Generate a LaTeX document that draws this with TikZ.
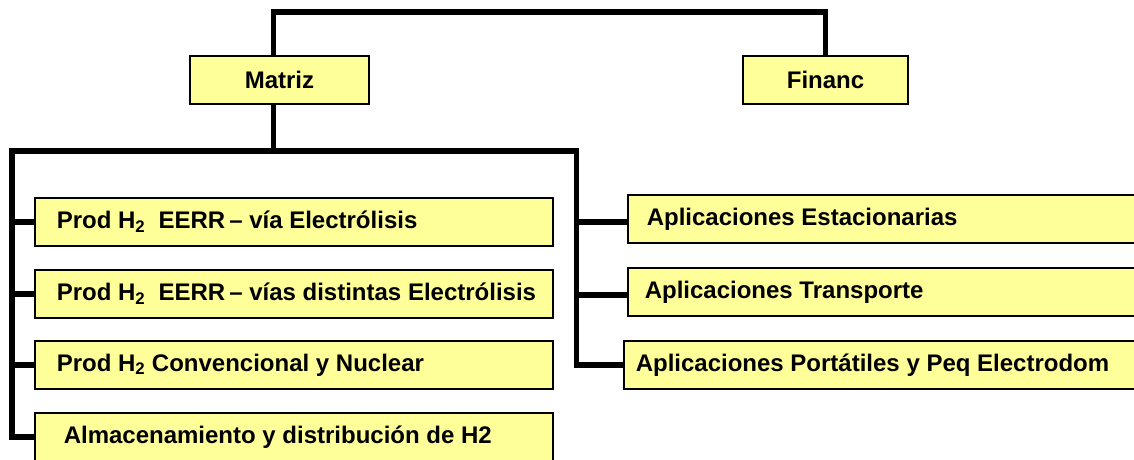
\documentclass[tikz,border=0pt]{standalone}
\usepackage{fontspec}
\setmainfont{Liberation Sans}
\definecolor{boxyellow}{HTML}{FFFF99}
\newcommand\lbox[2]{\makebox[#1][l]{#2}}
\tikzset{
	box/.style={draw=black, line width=1.5pt, fill=boxyellow, minimum height=48pt, inner ysep=0pt, font=\bfseries\fontsize{24}{28}\selectfont},
	conn/.style={line width=5.5pt, color=black}
}

\begin{document}
\begin{tikzpicture}[x=1pt, y=1pt]
			%%%%% START %%%%%
			\useasboundingbox (0, 0) rectangle (1134, -459);
			\clip (0, 0) rectangle (1134, -459);
			
			\node[box, minimum width=179pt] (matriz) at (279.5, -80) {Matriz};
			\node[box, minimum width=165pt] (financ) at (825.5, -80) {Financ};
			
			\node[box, anchor=west, inner xsep=22pt] (prodelec) at (34, -222) {\lbox{474pt}{Prod H\textsubscript{2}\ \ EERR\,– vía Electrólisis}};
			\node[box, anchor=west, inner xsep=22pt] (proddist) at (34, -294) {\lbox{474pt}{Prod H\textsubscript{2}\ \ EERR\,– vías distintas Electrólisis}};
			\node[box, anchor=west, inner xsep=22pt] (prodconv) at (34, -365) {\lbox{474pt}{Prod H\textsubscript{2} Convencional y Nuclear}};
			\node[box, anchor=west, inner xsep=29pt] (almac) at (34, -437) {\lbox{460pt}{Almacenamiento y distribución de H2}};
			
			\node[box, anchor=west, inner xsep=19pt] (apest) at (627, -219) {\lbox{500pt}{Aplicaciones Estacionarias}};
			\node[box, anchor=west, inner xsep=17pt] (aptrans) at (627, -292) {\lbox{504pt}{Aplicaciones Transporte}};
			\node[box, anchor=west, inner xsep=12pt] (apport) at (623, -365) {\lbox{518pt}{Aplicaciones Portátiles y Peq Electrodom}};
			
			\coordinate (top) at (550, -12);
			\coordinate (bus) at (12, -151);
			\coordinate (busr) at (576.5, -151);
			
			\draw[conn] ([xshift=-6pt]matriz.north) |- (top) -| (financ.north);
			\draw[conn] ([xshift=-6pt]matriz.south) -- ([xshift=-6pt]matriz.south |- bus);
			\draw[conn] (almac.west) -| (bus) -- (busr) |- (apport.west);
			
			\foreach \n in {prodelec, proddist, prodconv}
				\draw[conn] (\n.west) -- (\n.west -| bus);
			\foreach \n in {apest, aptrans}
				\draw[conn] ([yshift=-3pt]\n.west) -- ([yshift=-3pt]\n.west -| busr);
			
			%%%%% END %%%%%
\end{tikzpicture}
\end{document}
